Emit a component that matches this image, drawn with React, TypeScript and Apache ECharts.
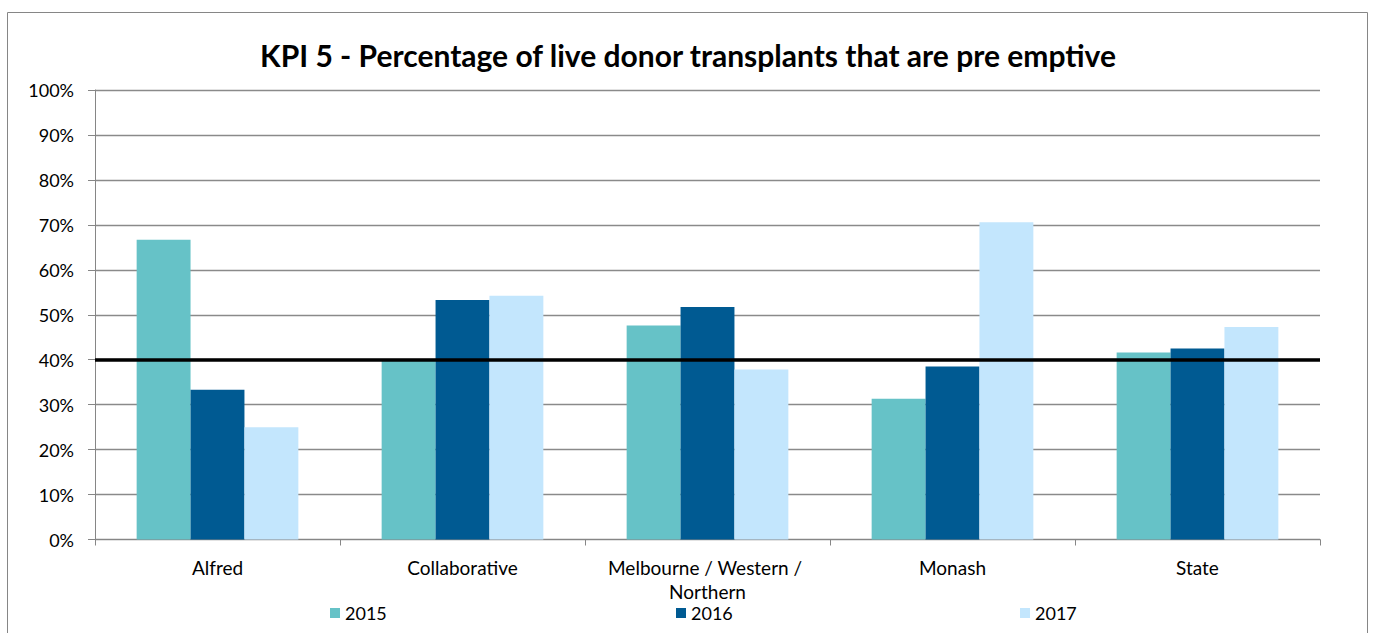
import React, { useEffect, useRef } from "react";
import * as echarts from "echarts";

const TITLE = "KPI 5 - Percentage of live donor transplants that are pre emptive";
const categories = ["Alfred", "Collaborative", "Melbourne / Western / Northern", "Monash", "State"];
const years = ["2015", "2016", "2017"];
const values2015 = [66.7, 40.0, 47.6, 31.3, 41.6];
const values2016 = [33.3, 53.3, 51.7, 38.5, 42.5];
const values2017 = [25.0, 54.2, 37.8, 70.6, 47.3];
const TARGET = 40;
const colors = ["#66C2C7", "#005A92", "#C3E6FD"];

const FONT = "Lato, 'Open Sans', sans-serif";

export default function App() {
  const ref = useRef<HTMLDivElement>(null);
  useEffect(() => {
    if (!ref.current) return;
    const chart = echarts.init(ref.current, null, { renderer: "svg" });
    const seriesData = [values2015, values2016, values2017];
    const legendLefts = [330, 676, 1020];
    chart.setOption({
      animation: false,
      backgroundColor: "#fff",
      textStyle: { fontFamily: FONT },
      title: {
        text: TITLE,
        left: "center",
        top: 35,
        textStyle: { fontFamily: FONT, fontWeight: "bold", fontSize: 30, color: "#000" },
      },
      legend: years.map((y, i) => ({
        data: [y],
        left: legendLefts[i],
        top: 604,
        padding: 0,
        itemWidth: 10,
        itemHeight: 10,
        icon: "rect",
        itemGap: 5,
        textStyle: { fontFamily: FONT, fontSize: 18, lineHeight: 18, color: "#000", padding: [0, 0, 0, 0] },
      })),
      graphic: [
        {
          type: "rect",
          shape: { x: 7.5, y: 12.5, width: 1360, height: 700 },
          style: { fill: "none", stroke: "#868686", lineWidth: 1 },
          silent: true,
        },
      ],
      grid: { left: 95, right: 56, top: 90, bottom: 93.5, containLabel: false },
      xAxis: {
        type: "category",
        data: categories,
        axisLine: { lineStyle: { color: "#868686", width: 1 } },
        axisTick: { show: true, length: 6, lineStyle: { color: "#868686" } },
        axisLabel: {
          color: "#000",
          fontFamily: FONT,
          fontSize: 19,
          margin: 16,
          lineHeight: 24,
          width: 225,
          overflow: "break",
          interval: 0,
        },
      },
      yAxis: {
        type: "value",
        min: 0,
        max: 100,
        interval: 10,
        axisLine: { show: true, lineStyle: { color: "#868686", width: 1 } },
        axisTick: { show: true, length: 7, lineStyle: { color: "#868686" } },
        axisLabel: {
          color: "#000",
          fontFamily: FONT,
          fontSize: 18,
          margin: 21,
          formatter: "{value}%",
        },
        splitLine: { show: true, lineStyle: { color: "#8A8A8A", width: 1.3 } },
      },
      series: years.map((y, i) => ({
        name: y,
        type: "bar",
        data: seriesData[i],
        barGap: "0%",
        barCategoryGap: "34%",
        itemStyle: { color: colors[i] },
        z: 2,
        ...(i === 2
          ? {
              markLine: {
                silent: true,
                symbol: ["none", "none"],
                label: { show: false },
                lineStyle: { color: "#000", width: 3.5, type: "solid" },
                data: [{ yAxis: TARGET }],
                z: 5,
              },
            }
          : {}),
      })),
    });
    return () => chart.dispose();
  }, []);
  return (
    <div
      ref={ref}
      style={{ position: "absolute", left: 0, top: 0, width: 1376, height: 633 }}
    />
  );
}
